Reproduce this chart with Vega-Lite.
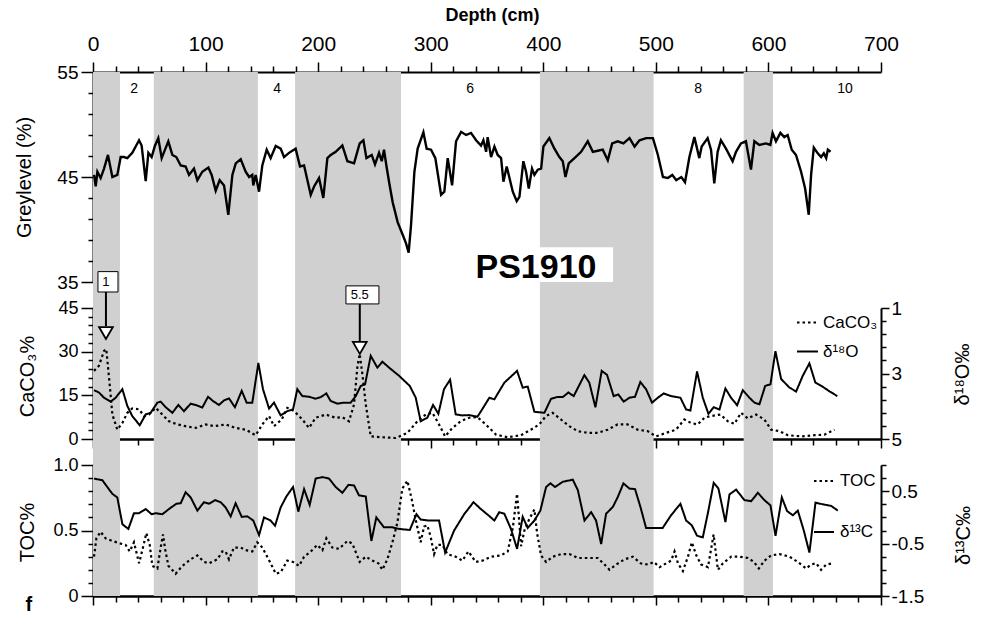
{
"$schema":"https://vega.github.io/schema/vega-lite/v6.json",
"padding":{"left":13,"top":6,"right":5,"bottom":8},
"spacing":26,
"bounds":"flush",
"datasets":{
"bands":[{"start":0,"end":24},{"start":54,"end":146.5},{"start":179.5,"end":273.6},{"start":397,"end":498},{"start":578,"end":604}],
"bandlabels":[{"label":"2","d":36.6},{"label":"4","d":163.5},{"label":"6","d":335},{"label":"8","d":537.5},{"label":"10","d":668}],
"events":[{"label":"1","d":11.5,"left":4.4,"right":22.2,"top":57.5,"bottom":50.5,"mid":54,"arrowEnd":38.8,"marker":36.4},{"label":"5.5","d":237,"left":224.7,"right":254,"top":52.6,"bottom":46.4,"mid":49.5,"arrowEnd":33.6,"marker":31.3}],
"grey":[{"d":0.9,"v":45.2},{"d":2.4,"v":44.1},{"d":3.9,"v":45.5},{"d":6.8,"v":44.9},{"d":9.8,"v":45.8},{"d":13.3,"v":47.1},{"d":15.7,"v":45.8},{"d":17.2,"v":45.0},{"d":21.6,"v":45.2},{"d":24.6,"v":46.9},{"d":27.5,"v":46.9},{"d":30.5,"v":46.8},{"d":34.9,"v":47.3},{"d":40.9,"v":48.5},{"d":43.2,"v":48.0},{"d":46.8,"v":44.6},{"d":49.2,"v":47.3},{"d":52.1,"v":46.9},{"d":55.1,"v":48.0},{"d":58.0,"v":48.7},{"d":61.0,"v":46.8},{"d":66.9,"v":48.4},{"d":70.5,"v":47.1},{"d":74.0,"v":46.9},{"d":77.9,"v":46.1},{"d":82.3,"v":46.0},{"d":85.3,"v":45.2},{"d":89.7,"v":45.8},{"d":92.7,"v":44.7},{"d":97.1,"v":45.5},{"d":102.5,"v":45.9},{"d":105.4,"v":45.2},{"d":109.0,"v":43.7},{"d":112.5,"v":44.7},{"d":116.4,"v":44.2},{"d":120.2,"v":41.4},{"d":123.8,"v":45.2},{"d":126.8,"v":46.3},{"d":131.2,"v":46.7},{"d":135.6,"v":45.5},{"d":138.7,"v":45.0},{"d":141.5,"v":45.2},{"d":142.4,"v":44.2},{"d":144.5,"v":45.2},{"d":147.5,"v":43.6},{"d":150.4,"v":46.1},{"d":154.3,"v":47.6},{"d":157.8,"v":46.8},{"d":162.3,"v":47.95},{"d":166.7,"v":47.7},{"d":169.7,"v":46.9},{"d":174.1,"v":47.3},{"d":180.0,"v":47.7},{"d":183.9,"v":46.0},{"d":187.5,"v":46.1},{"d":193.4,"v":43.3},{"d":196.4,"v":44.1},{"d":200.8,"v":44.9},{"d":204.6,"v":43.0},{"d":208.2,"v":46.8},{"d":211.2,"v":47.1},{"d":215.6,"v":47.4},{"d":221.5,"v":48.0},{"d":226.0,"v":46.5},{"d":231.9,"v":46.3},{"d":236.9,"v":48.2},{"d":240.2,"v":48.5},{"d":242.9,"v":46.8},{"d":247.6,"v":47.1},{"d":250.5,"v":46.2},{"d":254.1,"v":47.3},{"d":256.5,"v":46.5},{"d":258.5,"v":47.6},{"d":260.6,"v":46.1},{"d":263.2,"v":44.4},{"d":266.2,"v":42.6},{"d":270.6,"v":40.7},{"d":275.1,"v":39.5},{"d":278.0,"v":38.7},{"d":280.4,"v":37.8},{"d":282.5,"v":40.4},{"d":285.5,"v":45.5},{"d":288.4,"v":47.7},{"d":293.5,"v":49.25},{"d":296.4,"v":47.7},{"d":300.3,"v":47.6},{"d":304.1,"v":46.8},{"d":309.2,"v":43.3},{"d":312.1,"v":43.6},{"d":315.1,"v":46.8},{"d":319.0,"v":44.2},{"d":322.5,"v":48.4},{"d":327.0,"v":49.3},{"d":331.4,"v":49.0},{"d":335.8,"v":49.2},{"d":340.3,"v":48.5},{"d":344.7,"v":48.0},{"d":346.8,"v":48.5},{"d":349.2,"v":47.4},{"d":350.6,"v":48.8},{"d":353.6,"v":46.9},{"d":356.6,"v":47.9},{"d":359.5,"v":47.1},{"d":362.5,"v":46.8},{"d":364.6,"v":44.55},{"d":367.5,"v":46.0},{"d":372.9,"v":43.6},{"d":376.4,"v":42.7},{"d":378.8,"v":43.1},{"d":382.3,"v":46.5},{"d":384.7,"v":45.5},{"d":387.1,"v":43.9},{"d":390.0,"v":45.8},{"d":392.1,"v":45.2},{"d":395.1,"v":45.7},{"d":398.1,"v":45.8},{"d":400.1,"v":47.9},{"d":405.4,"v":48.7},{"d":409.9,"v":47.7},{"d":414.3,"v":46.9},{"d":417.3,"v":46.5},{"d":419.7,"v":45.0},{"d":422.6,"v":46.3},{"d":427.7,"v":46.8},{"d":433.6,"v":47.4},{"d":439.5,"v":48.4},{"d":444.0,"v":47.4},{"d":448.4,"v":47.5},{"d":452.8,"v":47.6},{"d":457.3,"v":46.6},{"d":461.2,"v":48.2},{"d":466.2,"v":48.4},{"d":471.2,"v":48.2},{"d":476.6,"v":48.7},{"d":481.1,"v":47.9},{"d":485.5,"v":48.5},{"d":491.4,"v":48.7},{"d":497.4,"v":48.7},{"d":501.8,"v":47.1},{"d":506.3,"v":45.0},{"d":510.7,"v":44.9},{"d":514.6,"v":45.2},{"d":518.1,"v":44.7},{"d":522.6,"v":45.0},{"d":525.9,"v":44.5},{"d":529.8,"v":46.9},{"d":534.2,"v":48.8},{"d":538.6,"v":46.8},{"d":540.7,"v":47.9},{"d":546.0,"v":48.7},{"d":549.0,"v":47.6},{"d":551.9,"v":44.4},{"d":554.9,"v":47.4},{"d":557.8,"v":48.5},{"d":562.3,"v":47.7},{"d":568.2,"v":46.5},{"d":571.2,"v":47.4},{"d":575.6,"v":48.2},{"d":580.0,"v":48.4},{"d":584.5,"v":45.7},{"d":587.5,"v":48.4},{"d":591.9,"v":48.05},{"d":597.8,"v":48.2},{"d":601.7,"v":48.05},{"d":603.7,"v":49.2},{"d":606.7,"v":48.4},{"d":610.6,"v":49.2},{"d":614.1,"v":48.8},{"d":617.1,"v":49.0},{"d":620.7,"v":47.6},{"d":624.5,"v":47.1},{"d":629.0,"v":45.5},{"d":632.6,"v":43.9},{"d":635.8,"v":41.4},{"d":637.9,"v":45.2},{"d":640.3,"v":47.8},{"d":643.8,"v":47.25},{"d":646.8,"v":46.9},{"d":649.2,"v":47.25},{"d":651.3,"v":46.8},{"d":652.8,"v":47.6},{"d":655.2,"v":47.4}],
"caco3":[{"d":0.9,"v":23.4},{"d":5.3,"v":25.2},{"d":9.8,"v":30.3},{"d":11.8,"v":30.9},{"d":14.8,"v":18.8},{"d":17.2,"v":8.4},{"d":21.6,"v":3.2},{"d":26.1,"v":5.5},{"d":30.5,"v":9.0},{"d":34.9,"v":10.5},{"d":40.9,"v":10.2},{"d":45.3,"v":7.9},{"d":49.7,"v":8.4},{"d":55.7,"v":10.7},{"d":61.6,"v":8.4},{"d":67.5,"v":6.1},{"d":74.9,"v":5.0},{"d":82.3,"v":4.4},{"d":91.2,"v":3.8},{"d":100.1,"v":5.0},{"d":107.5,"v":4.4},{"d":117.8,"v":5.0},{"d":126.7,"v":3.8},{"d":135.6,"v":3.2},{"d":144.5,"v":1.3},{"d":150.4,"v":5.0},{"d":156.4,"v":7.9},{"d":160.8,"v":4.4},{"d":167.6,"v":6.7},{"d":172.6,"v":10.7},{"d":178.6,"v":9.6},{"d":186.0,"v":6.7},{"d":191.9,"v":3.8},{"d":197.8,"v":7.3},{"d":206.7,"v":8.4},{"d":215.6,"v":7.3},{"d":221.5,"v":7.5},{"d":227.4,"v":6.1},{"d":231.9,"v":11.9},{"d":234.8,"v":24.6},{"d":236.9,"v":29.2},{"d":239.3,"v":22.3},{"d":242.3,"v":11.9},{"d":246.7,"v":0.9},{"d":257.1,"v":0.6},{"d":268.9,"v":0.35},{"d":279.3,"v":2.1},{"d":288.2,"v":6.1},{"d":295.6,"v":8.4},{"d":301.5,"v":9.0},{"d":307.4,"v":5.0},{"d":312.8,"v":0.9},{"d":319.3,"v":3.8},{"d":326.7,"v":6.1},{"d":334.1,"v":7.3},{"d":341.5,"v":7.5},{"d":348.9,"v":5.0},{"d":358.0,"v":1.5},{"d":368.3,"v":0.6},{"d":380.2,"v":1.3},{"d":389.0,"v":3.2},{"d":396.4,"v":5.0},{"d":402.4,"v":7.9},{"d":408.3,"v":9.0},{"d":415.7,"v":6.7},{"d":423.1,"v":4.4},{"d":430.5,"v":2.7},{"d":439.4,"v":2.1},{"d":448.3,"v":2.1},{"d":457.2,"v":3.2},{"d":466.0,"v":5.0},{"d":474.9,"v":5.0},{"d":483.8,"v":3.2},{"d":492.7,"v":2.7},{"d":500.1,"v":0.9},{"d":509.0,"v":2.1},{"d":517.9,"v":3.2},{"d":525.3,"v":6.7},{"d":531.2,"v":5.5},{"d":537.2,"v":5.0},{"d":543.1,"v":7.3},{"d":549.0,"v":7.9},{"d":557.4,"v":8.4},{"d":563.9,"v":6.1},{"d":569.8,"v":5.2},{"d":575.7,"v":9.0},{"d":581.6,"v":7.1},{"d":589.0,"v":8.4},{"d":596.4,"v":6.7},{"d":602.4,"v":3.2},{"d":609.8,"v":2.7},{"d":617.2,"v":1.3},{"d":629.0,"v":0.9},{"d":640.9,"v":1.3},{"d":649.8,"v":1.5},{"d":658.7,"v":3.2}],
"d18o":[{"d":0.9,"v":3.51},{"d":5.3,"v":3.58},{"d":9.8,"v":3.74},{"d":15.7,"v":3.86},{"d":20.1,"v":3.74},{"d":26.1,"v":3.48},{"d":30.5,"v":3.99},{"d":34.9,"v":4.30},{"d":41.5,"v":4.58},{"d":46.8,"v":4.25},{"d":51.2,"v":4.20},{"d":57.2,"v":3.89},{"d":60.1,"v":3.86},{"d":64.6,"v":4.03},{"d":70.5,"v":4.20},{"d":75.8,"v":3.96},{"d":80.8,"v":4.15},{"d":86.8,"v":3.92},{"d":91.2,"v":3.96},{"d":97.1,"v":4.04},{"d":102.2,"v":3.71},{"d":106.6,"v":3.84},{"d":111.9,"v":3.96},{"d":116.4,"v":3.82},{"d":120.8,"v":3.76},{"d":126.1,"v":4.03},{"d":132.1,"v":3.53},{"d":136.5,"v":3.89},{"d":141.5,"v":3.89},{"d":146.9,"v":2.68},{"d":151.0,"v":3.48},{"d":156.4,"v":4.07},{"d":160.8,"v":3.89},{"d":166.7,"v":4.28},{"d":172.6,"v":4.15},{"d":177.7,"v":4.10},{"d":181.5,"v":3.48},{"d":186.0,"v":3.69},{"d":191.9,"v":3.71},{"d":197.8,"v":3.77},{"d":202.3,"v":3.72},{"d":207.3,"v":3.61},{"d":211.1,"v":3.84},{"d":217.1,"v":3.92},{"d":223.0,"v":3.89},{"d":228.9,"v":3.89},{"d":233.4,"v":3.69},{"d":237.8,"v":3.38},{"d":241.7,"v":3.33},{"d":246.7,"v":2.46},{"d":252.6,"v":2.82},{"d":257.1,"v":2.64},{"d":263.0,"v":2.82},{"d":271.9,"v":3.07},{"d":281.4,"v":3.38},{"d":286.7,"v":3.74},{"d":291.1,"v":4.46},{"d":297.0,"v":4.35},{"d":302.1,"v":3.96},{"d":306.8,"v":4.23},{"d":311.8,"v":3.48},{"d":317.2,"v":3.19},{"d":322.2,"v":4.25},{"d":328.1,"v":4.28},{"d":334.1,"v":4.27},{"d":341.5,"v":4.32},{"d":344.7,"v":4.15},{"d":352.1,"v":3.74},{"d":356.5,"v":3.79},{"d":365.4,"v":3.28},{"d":376.7,"v":2.92},{"d":381.7,"v":3.43},{"d":386.2,"v":3.40},{"d":392.1,"v":4.17},{"d":401.0,"v":4.20},{"d":406.9,"v":3.77},{"d":412.2,"v":3.72},{"d":417.3,"v":3.72},{"d":422.3,"v":3.58},{"d":427.0,"v":3.69},{"d":436.5,"v":3.05},{"d":440.9,"v":3.28},{"d":446.3,"v":4.03},{"d":451.9,"v":2.92},{"d":456.6,"v":3.04},{"d":462.5,"v":3.69},{"d":466.7,"v":3.64},{"d":471.4,"v":3.86},{"d":476.5,"v":3.74},{"d":481.5,"v":3.71},{"d":486.2,"v":3.26},{"d":491.3,"v":3.48},{"d":496.6,"v":3.89},{"d":501.7,"v":3.74},{"d":507.0,"v":3.61},{"d":513.5,"v":3.69},{"d":521.8,"v":3.74},{"d":526.9,"v":4.10},{"d":530.7,"v":4.13},{"d":536.6,"v":2.94},{"d":541.7,"v":3.74},{"d":546.7,"v":4.23},{"d":551.4,"v":4.03},{"d":556.5,"v":4.10},{"d":561.8,"v":3.46},{"d":566.8,"v":3.74},{"d":572.2,"v":3.97},{"d":577.2,"v":3.51},{"d":583.1,"v":3.74},{"d":587.6,"v":3.89},{"d":592.0,"v":3.94},{"d":597.1,"v":3.38},{"d":601.8,"v":3.33},{"d":606.2,"v":2.32},{"d":611.3,"v":3.17},{"d":618.7,"v":3.43},{"d":624.6,"v":3.55},{"d":630.5,"v":3.07},{"d":636.4,"v":2.69},{"d":641.7,"v":3.28},{"d":647.1,"v":3.38},{"d":654.5,"v":3.55},{"d":661.2,"v":3.69}],
"toc":[{"d":0.9,"v":0.30},{"d":3.0,"v":0.44},{"d":6.8,"v":0.49},{"d":11.2,"v":0.44},{"d":17.2,"v":0.42},{"d":24.6,"v":0.40},{"d":29.0,"v":0.39},{"d":32.6,"v":0.34},{"d":36.4,"v":0.41},{"d":40.9,"v":0.25},{"d":44.4,"v":0.37},{"d":47.4,"v":0.48},{"d":50.4,"v":0.39},{"d":52.7,"v":0.23},{"d":57.2,"v":0.21},{"d":60.1,"v":0.37},{"d":62.2,"v":0.47},{"d":64.0,"v":0.36},{"d":67.0,"v":0.23},{"d":73.4,"v":0.17},{"d":79.4,"v":0.23},{"d":86.8,"v":0.28},{"d":92.7,"v":0.31},{"d":98.6,"v":0.26},{"d":103.1,"v":0.25},{"d":110.5,"v":0.28},{"d":114.9,"v":0.34},{"d":117.8,"v":0.34},{"d":120.8,"v":0.28},{"d":125.2,"v":0.37},{"d":131.2,"v":0.37},{"d":135.6,"v":0.35},{"d":141.5,"v":0.34},{"d":145.9,"v":0.41},{"d":150.4,"v":0.37},{"d":157.8,"v":0.25},{"d":162.3,"v":0.17},{"d":166.7,"v":0.18},{"d":172.6,"v":0.27},{"d":177.7,"v":0.26},{"d":183.0,"v":0.23},{"d":187.5,"v":0.30},{"d":193.4,"v":0.34},{"d":199.3,"v":0.39},{"d":203.8,"v":0.35},{"d":207.3,"v":0.44},{"d":212.6,"v":0.37},{"d":218.6,"v":0.36},{"d":226.0,"v":0.42},{"d":230.4,"v":0.40},{"d":236.9,"v":0.26},{"d":242.3,"v":0.30},{"d":248.2,"v":0.27},{"d":253.5,"v":0.25},{"d":257.1,"v":0.20},{"d":261.5,"v":0.28},{"d":266.0,"v":0.41},{"d":270.4,"v":0.56},{"d":274.8,"v":0.82},{"d":279.3,"v":0.88},{"d":283.1,"v":0.74},{"d":286.7,"v":0.58},{"d":291.1,"v":0.41},{"d":294.1,"v":0.53},{"d":297.0,"v":0.54},{"d":300.0,"v":0.45},{"d":303.0,"v":0.32},{"d":305.9,"v":0.39},{"d":310.4,"v":0.39},{"d":314.8,"v":0.32},{"d":322.2,"v":0.30},{"d":328.1,"v":0.27},{"d":333.5,"v":0.34},{"d":340.0,"v":0.26},{"d":345.9,"v":0.27},{"d":353.6,"v":0.30},{"d":362.5,"v":0.31},{"d":368.4,"v":0.34},{"d":372.9,"v":0.52},{"d":376.7,"v":0.78},{"d":378.8,"v":0.55},{"d":380.3,"v":0.38},{"d":383.2,"v":0.50},{"d":387.7,"v":0.59},{"d":392.1,"v":0.66},{"d":394.5,"v":0.48},{"d":398.0,"v":0.31},{"d":402.5,"v":0.26},{"d":408.4,"v":0.30},{"d":415.8,"v":0.32},{"d":423.2,"v":0.32},{"d":430.7,"v":0.29},{"d":439.5,"v":0.29},{"d":448.4,"v":0.29},{"d":454.4,"v":0.24},{"d":458.8,"v":0.20},{"d":464.8,"v":0.24},{"d":472.1,"v":0.28},{"d":479.5,"v":0.30},{"d":486.4,"v":0.25},{"d":492.9,"v":0.24},{"d":498.2,"v":0.26},{"d":503.3,"v":0.22},{"d":509.2,"v":0.25},{"d":513.6,"v":0.27},{"d":516.6,"v":0.34},{"d":519.6,"v":0.25},{"d":524.0,"v":0.19},{"d":528.5,"v":0.30},{"d":532.0,"v":0.41},{"d":535.9,"v":0.31},{"d":540.3,"v":0.24},{"d":546.3,"v":0.22},{"d":551.3,"v":0.47},{"d":555.1,"v":0.20},{"d":559.6,"v":0.25},{"d":567.0,"v":0.30},{"d":574.4,"v":0.30},{"d":581.8,"v":0.29},{"d":587.1,"v":0.26},{"d":591.5,"v":0.21},{"d":596.5,"v":0.27},{"d":602.4,"v":0.31},{"d":609.8,"v":0.32},{"d":618.7,"v":0.30},{"d":626.1,"v":0.26},{"d":633.5,"v":0.21},{"d":637.9,"v":0.24},{"d":642.4,"v":0.25},{"d":646.8,"v":0.20},{"d":651.3,"v":0.24},{"d":657.2,"v":0.25}],
"d13c":[{"d":0.9,"v":0.74},{"d":8.3,"v":0.71},{"d":12.7,"v":0.58},{"d":17.2,"v":0.45},{"d":21.6,"v":0.38},{"d":26.1,"v":-0.13},{"d":31.4,"v":-0.22},{"d":36.4,"v":0.08},{"d":40.9,"v":0.08},{"d":46.8,"v":0.16},{"d":52.1,"v":0.06},{"d":55.7,"v":0.08},{"d":61.6,"v":0.06},{"d":67.5,"v":0.16},{"d":74.0,"v":0.26},{"d":77.9,"v":0.27},{"d":82.3,"v":0.48},{"d":86.8,"v":0.38},{"d":92.7,"v":0.13},{"d":98.6,"v":0.29},{"d":103.1,"v":0.26},{"d":108.4,"v":0.33},{"d":113.4,"v":0.29},{"d":117.8,"v":0.19},{"d":122.3,"v":0.02},{"d":126.7,"v":0.27},{"d":132.1,"v":0.01},{"d":137.1,"v":0.02},{"d":142.4,"v":-0.06},{"d":147.5,"v":-0.34},{"d":151.9,"v":0.00},{"d":157.8,"v":-0.06},{"d":161.7,"v":-0.16},{"d":166.7,"v":0.19},{"d":171.8,"v":0.40},{"d":177.7,"v":0.58},{"d":182.4,"v":0.11},{"d":187.5,"v":0.54},{"d":192.5,"v":0.24},{"d":197.8,"v":0.74},{"d":203.8,"v":0.77},{"d":209.7,"v":0.74},{"d":215.6,"v":0.58},{"d":221.5,"v":0.47},{"d":226.9,"v":0.62},{"d":231.9,"v":0.61},{"d":236.3,"v":0.42},{"d":242.3,"v":0.40},{"d":247.3,"v":-0.45},{"d":251.7,"v":0.00},{"d":258.5,"v":-0.19},{"d":265.9,"v":-0.19},{"d":271.9,"v":-0.22},{"d":281.4,"v":-0.24},{"d":287.3,"v":0.06},{"d":291.1,"v":-0.04},{"d":298.5,"v":-0.06},{"d":307.4,"v":-0.06},{"d":312.8,"v":-0.67},{"d":320.8,"v":-0.25},{"d":329.7,"v":0.06},{"d":338.0,"v":0.29},{"d":344.5,"v":0.16},{"d":351.8,"v":0.03},{"d":356.5,"v":-0.06},{"d":360.9,"v":0.10},{"d":365.4,"v":0.07},{"d":371.3,"v":-0.22},{"d":376.7,"v":-0.60},{"d":381.7,"v":0.01},{"d":386.2,"v":-0.20},{"d":392.1,"v":-0.06},{"d":397.4,"v":0.13},{"d":402.5,"v":0.58},{"d":406.3,"v":0.65},{"d":410.5,"v":0.58},{"d":417.3,"v":0.68},{"d":426.2,"v":0.72},{"d":430.7,"v":0.52},{"d":436.6,"v":-0.06},{"d":442.5,"v":0.10},{"d":446.9,"v":-0.06},{"d":451.4,"v":-0.51},{"d":455.8,"v":0.07},{"d":461.8,"v":0.20},{"d":466.2,"v":0.39},{"d":471.2,"v":0.65},{"d":476.5,"v":0.55},{"d":481.5,"v":0.54},{"d":486.3,"v":0.20},{"d":491.3,"v":-0.20},{"d":506.1,"v":-0.20},{"d":513.5,"v":0.04},{"d":521.8,"v":0.26},{"d":526.9,"v":-0.06},{"d":531.9,"v":-0.15},{"d":536.6,"v":-0.35},{"d":541.7,"v":-0.38},{"d":546.1,"v":0.07},{"d":551.4,"v":0.66},{"d":555.6,"v":0.55},{"d":561.8,"v":-0.09},{"d":565.4,"v":0.44},{"d":571.3,"v":0.53},{"d":578.7,"v":0.33},{"d":584.7,"v":0.31},{"d":590.6,"v":0.47},{"d":595.9,"v":0.34},{"d":601.8,"v":0.23},{"d":606.3,"v":-0.35},{"d":611.9,"v":0.38},{"d":616.6,"v":0.12},{"d":621.7,"v":0.04},{"d":626.1,"v":0.13},{"d":631.4,"v":-0.25},{"d":636.4,"v":-0.67},{"d":641.8,"v":0.28},{"d":648.3,"v":0.25},{"d":655.7,"v":0.22},{"d":661.6,"v":0.13}]
},
"vconcat":[
{
"width":788,"height":210,
"resolve":{"axis":{"x":"independent","y":"independent"}},
"layer":[
{"data":{"name":"bands"},"mark":{"type":"rect","color":"#d0d0d0"},"encoding":{"x":{"field":"start","type":"quantitative","scale":{"domain":[0,700]},"axis":null},"x2":{"field":"end"},"y":{"datum":55,"type":"quantitative","scale":{"domain":[35,55]},"axis":null},"y2":{"datum":32.52}}},
{"data":{"values":[{"label":"PS1910"}]},"mark":{"type":"rect","color":"white"},"encoding":{"x":{"datum":340,"type":"quantitative","scale":{"domain":[0,700]},"axis":null},"x2":{"datum":462},"y":{"datum":38.3,"type":"quantitative","scale":{"domain":[35,55]},"axis":null},"y2":{"datum":35}}},
{"data":{"values":[{"label":"PS1910"}]},"mark":{"type":"text","fontSize":34,"fontWeight":"bold","baseline":"middle","align":"center"},"encoding":{"x":{"datum":393.5,"type":"quantitative","scale":{"domain":[0,700]},"axis":null},"y":{"datum":36.3,"type":"quantitative","scale":{"domain":[35,55]},"axis":null},"text":{"field":"label"}}},
{"data":{"name":"bandlabels"},"mark":{"type":"text","fontSize":14,"baseline":"middle","align":"center"},"encoding":{"x":{"field":"d","type":"quantitative","scale":{"domain":[0,700]},"axis":null},"y":{"datum":53.4,"type":"quantitative","scale":{"domain":[35,55]},"axis":null},"text":{"field":"label"}}},
{"data":{"name":"grey"},"mark":{"type":"line","color":"black","strokeWidth":2.4},"encoding":{
"x":{"field":"d","type":"quantitative","scale":{"domain":[0,700]},"axis":{"orient":"top","values":[0,20,40,60,80,100,120,140,160,180,200,220,240,260,280,300,320,340,360,380,400,420,440,460,480,500,520,540,560,580,600,620,640,660,680,700],"labelExpr":"datum.value % 100 == 0 ? datum.label : ''","tickSize":{"condition":{"test":"datum.value % 100 == 0","value":10},"value":6},"labelFontSize":21,"labelPadding":8,"title":"Depth (cm)","titleFontSize":18,"titleFontWeight":"bold","titleX":399,"titleY":-57,"titleBaseline":"middle"}},
"y":{"field":"v","type":"quantitative","scale":{"domain":[35,55]},"axis":{"orient":"left","values":[35,37,39,41,43,45,47,49,51,53,55],"labelExpr":"datum.value % 10 == 5 ? datum.label : ''","tickSize":{"condition":{"test":"datum.value % 10 == 5","value":12},"value":5},"labelFontSize":19,"labelPadding":3,"title":"Greylevel (%)","titleFontSize":20,"titleX":-69,"titleY":105,"titleBaseline":"middle"}}}}
]
},
{
"width":788,"height":131,
"resolve":{"scale":{"y":"independent"},"axis":{"x":"independent","y":"independent"}},
"layer":[
{"resolve":{"axis":{"x":"independent","y":"independent"}},
"layer":[
{"data":{"name":"bands"},"mark":{"type":"rect","color":"#d0d0d0"},"encoding":{"x":{"field":"start","type":"quantitative","scale":{"domain":[0,700]},"axis":null},"x2":{"field":"end"},"y":{"datum":45,"type":"quantitative","scale":{"domain":[0,45]},"axis":null},"y2":{"datum":-8.93}}},
{"data":{"name":"caco3"},"mark":{"type":"line","color":"black","strokeWidth":2.2,"strokeDash":[2.5,3]},"encoding":{
"x":{"field":"d","type":"quantitative","scale":{"domain":[0,700]},"axis":{"orient":"bottom","values":[0,20,40,60,80,100,120,140,160,180,200,220,240,260,280,300,320,340,360,380,400,420,440,460,480,500,520,540,560,580,600,620,640,660,680,700],"labels":false,"tickSize":{"condition":{"test":"datum.value % 100 == 0","value":9},"value":6},"title":null,"domainWidth":2.5}},
"y":{"field":"v","type":"quantitative","scale":{"domain":[0,45]},"axis":{"orient":"left","values":[0,3,6,9,12,15,18,21,24,27,30,33,36,39,42,45],"labelExpr":"datum.value % 15 == 0 ? datum.label : ''","tickSize":{"condition":{"test":"datum.value % 15 == 0","value":12},"value":5},"labelFontSize":18,"labelPadding":3,"title":"CaCO₃%","titleFontSize":20,"titleX":-66,"titleY":68,"titleBaseline":"middle"}},
"strokeDash":{"datum":"CaCO₃","type":"nominal","scale":{"domain":["CaCO₃","δ¹⁸O"],"range":[[2.5,3],[1,0]]},"legend":{"orient":"none","legendX":703,"legendY":3,"title":null,"symbolType":"stroke","symbolSize":440,"symbolStrokeWidth":2,"symbolStrokeColor":"black","labelFontSize":17,"labelOffset":4,"rowPadding":9}}}},
{"data":{"name":"events"},"mark":{"type":"rule","color":"black","strokeWidth":2},"encoding":{"x":{"field":"d","type":"quantitative","scale":{"domain":[0,700]},"axis":null},"y":{"field":"bottom","type":"quantitative","scale":{"domain":[0,45]},"axis":null},"y2":{"field":"arrowEnd"}}},
{"data":{"name":"events"},"mark":{"type":"point","shape":"triangle-down","filled":true,"fill":"white","stroke":"black","strokeWidth":1.8,"size":190,"opacity":1},"encoding":{"x":{"field":"d","type":"quantitative","scale":{"domain":[0,700]},"axis":null},"y":{"field":"marker","type":"quantitative","scale":{"domain":[0,45]},"axis":null}}},
{"data":{"name":"events"},"mark":{"type":"rect","fill":"white","stroke":"black","strokeWidth":1},"encoding":{"x":{"field":"left","type":"quantitative","scale":{"domain":[0,700]},"axis":null},"x2":{"field":"right"},"y":{"field":"top","type":"quantitative","scale":{"domain":[0,45]},"axis":null},"y2":{"field":"bottom"}}},
{"data":{"name":"events"},"mark":{"type":"text","fontSize":13,"baseline":"middle","align":"center"},"encoding":{"x":{"field":"d","type":"quantitative","scale":{"domain":[0,700]},"axis":null},"y":{"field":"mid","type":"quantitative","scale":{"domain":[0,45]},"axis":null},"text":{"field":"label"}}}
]},
{"data":{"name":"d18o"},"mark":{"type":"line","color":"black","strokeWidth":2},"encoding":{
"x":{"field":"d","type":"quantitative","scale":{"domain":[0,700]},"axis":null},
"y":{"field":"v","type":"quantitative","scale":{"domain":[1,5],"reverse":true},"axis":{"orient":"right","values":[1,1.4,1.8,2.2,2.6,3,3.4,3.8,4.2,4.6,5],"labelExpr":"datum.value==1 ? '1' : datum.value==3 ? '3' : datum.value==5 ? '5' : ''","tickSize":{"condition":{"test":"datum.value==1||datum.value==3||datum.value==5","value":8},"value":5},"labelFontSize":19,"labelPadding":2,"title":"δ¹⁸O‰","titleFontSize":20,"titleAngle":270,"titleX":81,"titleY":66,"titleBaseline":"middle"}},
"strokeDash":{"datum":"δ¹⁸O","type":"nominal"}}}
]
},
{
"width":788,"height":131,
"resolve":{"scale":{"y":"independent"},"axis":{"x":"independent","y":"independent"}},
"layer":[
{"resolve":{"axis":{"x":"independent","y":"independent"}},
"layer":[
{"data":{"name":"bands"},"mark":{"type":"rect","color":"#d0d0d0"},"encoding":{"x":{"field":"start","type":"quantitative","scale":{"domain":[0,700]},"axis":null},"x2":{"field":"end"}}},
{"data":{"name":"toc"},"mark":{"type":"line","color":"black","strokeWidth":2.2,"strokeDash":[2.5,3]},"encoding":{
"x":{"field":"d","type":"quantitative","scale":{"domain":[0,700]},"axis":{"orient":"bottom","values":[0,20,40,60,80,100,120,140,160,180,200,220,240,260,280,300,320,340,360,380,400,420,440,460,480,500,520,540,560,580,600,620,640,660,680,700],"labels":false,"tickSize":{"condition":{"test":"datum.value % 100 == 0","value":9},"value":6},"title":null,"domainWidth":2.5}},
"y":{"field":"v","type":"quantitative","scale":{"domain":[0,1]},"axis":{"orient":"left","values":[0,0.1,0.2,0.3,0.4,0.5,0.6,0.7,0.8,0.9,1],"labelExpr":"datum.value==0 ? '0' : abs(datum.value-0.5)<0.001 ? '0.5' : abs(datum.value-1)<0.001 ? '1.0' : ''","tickSize":{"condition":{"test":"datum.value==0||abs(datum.value-0.5)<0.001||abs(datum.value-1)<0.001","value":12},"value":5},"labelFontSize":18,"labelPadding":3,"title":"TOC%","titleFontSize":20,"titleX":-66,"titleY":67,"titleBaseline":"middle"}},
"strokeDash":{"datum":"TOC","type":"nominal","scale":{"domain":["TOC","δ¹³C"],"range":[[2.5,3],[1,0]]},"legend":{"orient":"none","legendX":720,"legendY":5,"title":null,"symbolType":"stroke","symbolSize":400,"symbolStrokeWidth":2,"symbolStrokeColor":"black","labelFontSize":17,"labelOffset":5,"rowPadding":32}}}},
{"data":{"values":[{"label":"f"}]},"mark":{"type":"text","fontSize":20,"fontWeight":"bold","baseline":"middle","align":"center"},"encoding":{"x":{"datum":-57,"type":"quantitative","scale":{"domain":[0,700]},"axis":null},"y":{"datum":-0.065,"type":"quantitative","scale":{"domain":[0,1]},"axis":null},"text":{"field":"label"}}}
]},
{"data":{"name":"d13c"},"mark":{"type":"line","color":"black","strokeWidth":2},"encoding":{
"x":{"field":"d","type":"quantitative","scale":{"domain":[0,700]},"axis":null},
"y":{"field":"v","type":"quantitative","scale":{"domain":[-1.5,1]},"axis":{"orient":"right","values":[-1.5,-1.25,-1,-0.75,-0.5,-0.25,0,0.25,0.5,0.75,1],"labelExpr":"abs(datum.value-0.5)<0.001 ? '0.5' : abs(datum.value+0.5)<0.001 ? '-0.5' : abs(datum.value+1.5)<0.001 ? '-1.5' : ''","tickSize":{"condition":{"test":"abs(datum.value-0.5)<0.001||abs(datum.value+0.5)<0.001||abs(datum.value+1.5)<0.001","value":8},"value":5},"labelFontSize":19,"labelPadding":2,"title":"δ¹³C‰","titleFontSize":20,"titleAngle":270,"titleX":82,"titleY":70,"titleBaseline":"middle"}},
"strokeDash":{"datum":"δ¹³C","type":"nominal"}}}
]
}
],
"resolve":{"scale":{"strokeDash":"independent","x":"independent","y":"independent"}},
"config":{
"font":"Liberation Sans",
"view":{"stroke":null},
"axis":{"grid":false,"domainColor":"black","domainWidth":2,"tickColor":"black","tickWidth":1.5,"labelColor":"black","titleColor":"black","labelFont":"Liberation Sans","titleFont":"Liberation Sans","titleFontWeight":"normal","labelFlush":false,"labelOverlap":false},
"legend":{"labelFont":"Liberation Sans","labelColor":"black"},
"text":{"font":"Liberation Sans","color":"black"}
}
}
